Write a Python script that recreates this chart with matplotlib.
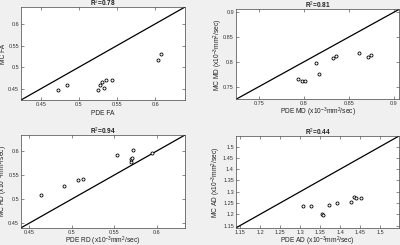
import numpy as np
import matplotlib
matplotlib.use("Agg")
import matplotlib.pyplot as plt
from matplotlib.ticker import FuncFormatter

plt.rcParams["font.family"] = ["Liberation Sans", "DejaVu Sans"]
plt.rcParams["mathtext.fontset"] = "custom"
plt.rcParams["mathtext.rm"] = "Liberation Sans"

# FA
fa_pde = [0.473, 0.484, 0.525, 0.527, 0.530, 0.533, 0.536, 0.543, 0.603, 0.608]
fa_mc = [0.446, 0.459, 0.448, 0.459, 0.466, 0.451, 0.470, 0.470, 0.516, 0.531]

# MD
md_pde = [0.794, 0.798, 0.801, 0.814, 0.817, 0.832, 0.836, 0.861, 0.872, 0.875]
md_mc = [0.765, 0.762, 0.762, 0.797, 0.776, 0.807, 0.811, 0.817, 0.809, 0.814]

# RD
rd_pde = [0.464, 0.491, 0.507, 0.513, 0.553, 0.569, 0.570, 0.571, 0.572, 0.594]
rd_mc = [0.508, 0.526, 0.540, 0.541, 0.591, 0.577, 0.584, 0.585, 0.601, 0.596]

# AD
ad_pde = [1.308, 1.327, 1.355, 1.356, 1.373, 1.392, 1.427, 1.435, 1.440, 1.451]
ad_mc = [1.238, 1.238, 1.201, 1.199, 1.240, 1.250, 1.256, 1.277, 1.271, 1.274]

titles = ["R$^2$=0.78", "R$^2$=0.81", "R$^2$=0.94", "R$^2$=0.44"]
xlabels = ["PDE FA", "PDE MD (x10$^{-3}$mm$^2$/sec)",
           "PDE RD (x10$^{-3}$mm$^2$/sec)", "PDE AD (x10$^{-3}$mm$^2$/sec)"]
ylabels = ["MC FA", "MC MD (x10$^{-3}$mm$^2$/sec)",
           "MC RD (x10$^{-3}$mm$^2$/sec)", "MC AD (x10$^{-3}$mm$^2$/sec)"]
limits = [(0.424, 0.639), (0.7246, 0.906), (0.44, 0.633), (1.14, 1.547)]
ticks = [[0.45, 0.5, 0.55, 0.6], [0.75, 0.8, 0.85, 0.9],
         [0.45, 0.5, 0.55, 0.6],
         [1.15, 1.2, 1.25, 1.3, 1.35, 1.4, 1.45, 1.5]]
positions = [[0.0525, 0.5918, 0.41, 0.3796], [0.59, 0.5947, 0.4075, 0.367],
             [0.0525, 0.0700, 0.41, 0.379], [0.59, 0.0700, 0.4075, 0.3749]]
data = [(fa_pde, fa_mc), (md_pde, md_mc), (rd_pde, rd_mc), (ad_pde, ad_mc)]

W, H = 400, 245
fig = plt.figure(figsize=(W / 100, H / 100), dpi=100, facecolor="#f0f0f0")
fmt = FuncFormatter(lambda v, p: "%g" % round(v, 3))

for i in range(4):
    ax = fig.add_axes(positions[i])
    wpx = positions[i][2] * W
    hpx = positions[i][3] * H
    x, y = data[i]
    lo, hi = limits[i]
    ax.plot([lo, hi], [lo, hi], color="black", lw=0.9)
    ax.plot(x, y, "o", ms=2.2, mfc="white", mec="black", mew=0.6)
    ax.set_xlim(lo, hi)
    ax.set_ylim(lo, hi)
    ax.set_xticks(ticks[i])
    ax.set_yticks(ticks[i])
    ax.xaxis.set_major_formatter(fmt)
    ax.yaxis.set_major_formatter(fmt)
    ax.tick_params(direction="in", top=True, right=True, length=2,
                   width=0.4, labelsize=4.0, pad=1.5, colors="#333333")
    for s in ax.spines.values():
        s.set_linewidth(0.5)
        s.set_color("#444444")
    ax.text(0.5, 1 + 3.8 / hpx, titles[i], transform=ax.transAxes,
            ha="center", va="center", fontsize=4.7, fontweight="bold",
            color="#222222")
    ax.set_xlabel(xlabels[i], fontsize=4.8, color="#222222")
    ax.set_ylabel(ylabels[i], fontsize=4.8, color="#222222")
    ax.xaxis.set_label_coords(0.5, -13.5 / hpx)
    ax.yaxis.set_label_coords(-(19.5 if i == 3 else 17.5) / wpx, 0.5)
    ax.xaxis.label.set_va("center")
    ax.yaxis.label.set_va("center")

fig.savefig("out.png", dpi=100, facecolor=fig.get_facecolor())
